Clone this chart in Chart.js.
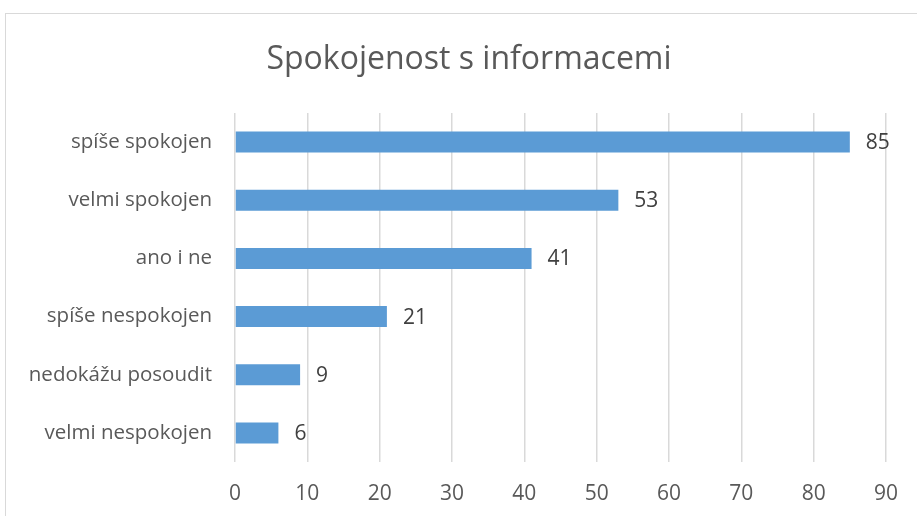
<!DOCTYPE html>
<html>
<head>
<meta charset="utf-8">
<script src="https://cdn.jsdelivr.net/npm/chart.js@4.4.1/dist/chart.umd.min.js"></script>
<style>
  html, body { margin: 0; padding: 0; background: #fff; overflow: hidden; }
  #frame { position: absolute; left: 5px; top: 13px; width: 960px; height: 560px; border: 1px solid #d9d9d9; }
  #chart { position: absolute; left: 0; top: 0; }
</style>
</head>
<body>
<div id="frame"></div>
<canvas id="chart" width="917" height="516"></canvas>
<script>
// data
const categories = ["spíše spokojen", "velmi spokojen", "ano i ne", "spíše nespokojen", "nedokážu posoudit", "velmi nespokojen"];
const values = [85, 53, 41, 21, 9, 6];
const chartTitle = "Spokojenost s informacemi";

const FONT = "'Open Sans', 'Liberation Sans', sans-serif";

// titulek vycentrovany na ramecek grafu
const titlePlugin = {
  id: "frameTitle",
  afterDraw(chart) {
    const ctx = chart.ctx;
    ctx.save();
    ctx.font = "32px " + FONT;
    ctx.fillStyle = "#595959";
    ctx.textAlign = "center";
    ctx.textBaseline = "middle";
    ctx.fillText(chartTitle, 469, 60);
    ctx.restore();
  }
};

// popisky hodnot za koncem sloupce
const valueLabels = {
  id: "valueLabels",
  afterDatasetsDraw(chart) {
    const ctx = chart.ctx;
    const meta = chart.getDatasetMeta(0);
    ctx.save();
    ctx.font = "21px " + FONT;
    ctx.fillStyle = "#404040";
    ctx.textAlign = "left";
    ctx.textBaseline = "middle";
    meta.data.forEach((bar, i) => {
      ctx.fillText(String(values[i]), bar.x + 16, bar.y + 1);
    });
    ctx.restore();
  }
};

new Chart(document.getElementById("chart"), {
  type: "bar",
  data: {
    labels: categories,
    datasets: [{
      data: values,
      backgroundColor: "#5b9bd5",
      barPercentage: 0.36,
      categoryPercentage: 1
    }]
  },
  plugins: [valueLabels, titlePlugin],
  options: {
    indexAxis: "y",
    responsive: false,
    animation: false,
    layout: { padding: { left: 0, right: 28, top: 113, bottom: 0 } },
    plugins: {
      legend: { display: false },
      tooltip: { enabled: false },
      title: { display: false }
    },
    scales: {
      x: {
        min: 0,
        max: 90,
        ticks: { stepSize: 10, color: "#595959", font: { family: FONT, size: 21 }, padding: 19 },
        grid: { color: "#d9d9d9", lineWidth: 1.5, drawTicks: false },
        border: { display: false },
        afterFit: (scale) => { scale.height = 54; }
      },
      y: {
        ticks: { color: "#595959", font: { family: FONT, size: 20.5 }, padding: 23 },
        grid: { display: false, drawTicks: false },
        border: { display: false },
        afterFit: (scale) => { scale.width = 235; }
      }
    }
  }
});
</script>
</body>
</html>
